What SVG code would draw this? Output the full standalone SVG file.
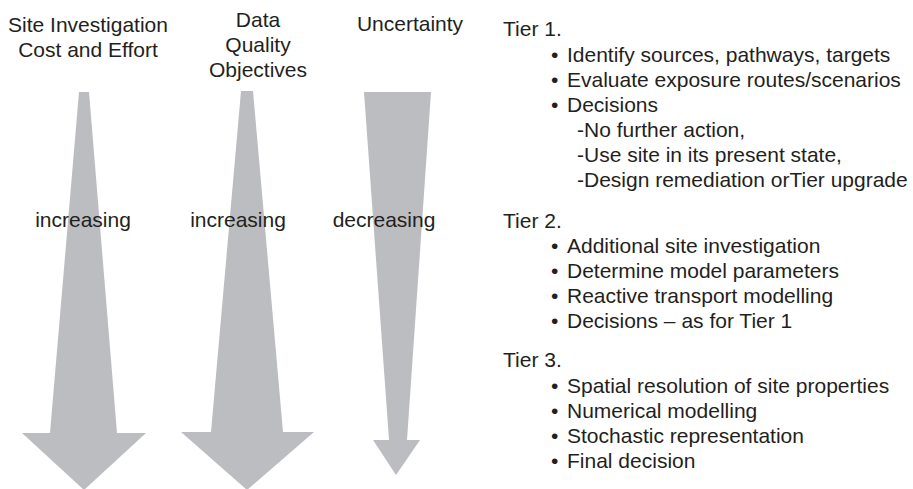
<svg xmlns="http://www.w3.org/2000/svg" width="913" height="489" viewBox="0 0 913 489">
<style>
text{font-family:"Liberation Sans",Arial,sans-serif;font-size:21px;fill:#231f20}
.c{text-anchor:middle}
.arrow{fill:#bcbdc0;stroke:none}
</style>
<rect width="913" height="489" fill="#ffffff"/>
<g id="connectors">
<polygon class="arrow" points="79,92 89,92 117,433 146,433 84,490 22,433 50,433"/>
<polygon class="arrow" points="241,91 253,91 283,432 314,432 247,490 181,432 211,432"/>
<polygon class="arrow" points="364,92 431,92 407,440 420,440 396,475 373,440 389,440"/>
</g>
<g id="node-cost">
<text class="c" x="88" y="32">Site Investigation</text>
<text class="c" x="88" y="57">Cost and Effort</text>
<text class="c" x="83" y="227">increasing</text>
</g>
<g id="node-dqo">
<text class="c" x="258" y="27">Data</text>
<text class="c" x="258" y="52">Quality</text>
<text class="c" x="258" y="77">Objectives</text>
<text class="c" x="238" y="227">increasing</text>
</g>
<g id="node-uncertainty">
<text class="c" x="410" y="31">Uncertainty</text>
<text class="c" x="384" y="227">decreasing</text>
</g>
<g id="node-tier1">
<text x="503" y="36">Tier 1.</text>
<text y="62"><tspan x="551">•</tspan><tspan x="567">Identify sources, pathways, targets</tspan></text>
<text y="87"><tspan x="551">•</tspan><tspan x="567">Evaluate exposure routes/scenarios</tspan></text>
<text y="112"><tspan x="551">•</tspan><tspan x="567">Decisions</tspan></text>
<text x="577" y="137">-No further action,</text>
<text x="577" y="162">-Use site in its present state,</text>
<text x="577" y="187">-Design remediation orTier upgrade</text>
</g>
<g id="node-tier2">
<text x="503" y="228">Tier 2.</text>
<text y="253"><tspan x="551">•</tspan><tspan x="567">Additional site investigation</tspan></text>
<text y="278"><tspan x="551">•</tspan><tspan x="567">Determine model parameters</tspan></text>
<text y="303"><tspan x="551">•</tspan><tspan x="567">Reactive transport modelling</tspan></text>
<text y="328"><tspan x="551">•</tspan><tspan x="567">Decisions – as for Tier 1</tspan></text>
</g>
<g id="node-tier3">
<text x="503" y="367">Tier 3.</text>
<text y="393"><tspan x="551">•</tspan><tspan x="567">Spatial resolution of site properties</tspan></text>
<text y="418"><tspan x="551">•</tspan><tspan x="567">Numerical modelling</tspan></text>
<text y="443"><tspan x="551">•</tspan><tspan x="567">Stochastic representation</tspan></text>
<text y="468"><tspan x="551">•</tspan><tspan x="567">Final decision</tspan></text>
</g>
</svg>
